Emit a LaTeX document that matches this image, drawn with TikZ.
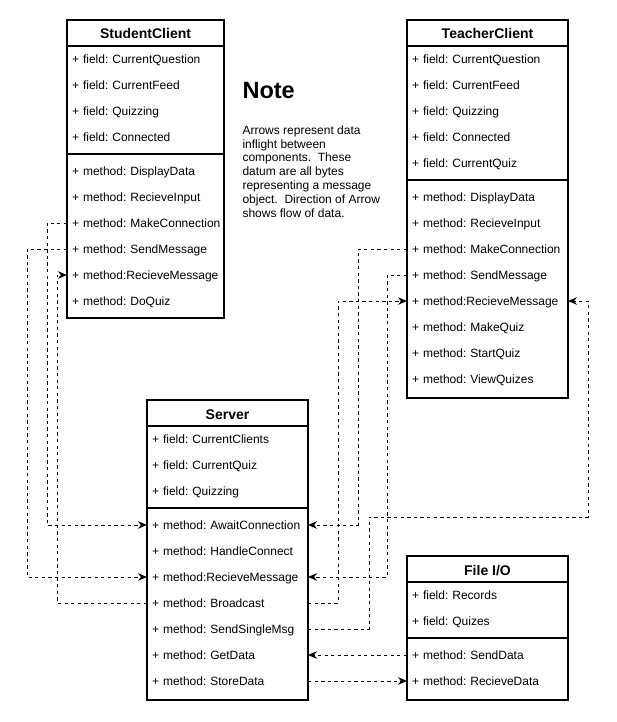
\documentclass[tikz,border=0pt]{standalone}
\usepackage{fontspec}
\setmainfont{Liberation Sans}
\usetikzlibrary{arrows.meta}

\begin{document}
\begin{tikzpicture}[x=1pt,y=-1pt,line width=1.1pt]
    \tikzstyle{member}=[inner xsep=5pt,inner ysep=0pt,outer sep=0pt,minimum height=26pt,text height=9.6pt,text depth=1pt,align=left,font=\fontsize{12}{14}\selectfont\frenchspacing]
    \tikzstyle{head}=[inner sep=0pt,outer sep=0pt,text height=10pt,text depth=0pt,font=\fontsize{14}{16}\selectfont\bfseries]
    \tikzstyle{flow}=[line width=0.9pt,dash pattern=on 3.3pt off 3.3pt,-{Stealth[length=9pt,width=7.5pt]}]
    \useasboundingbox (0,0) rectangle (616,722);

    % StudentClient
    \draw (67,20) rectangle (224,318);
    \draw (67,46) -- (224,46) (67,154) -- (224,154);
    \node[head] (SC) at (145.5,34) {StudentClient};
    \foreach \txt [count=\i] in {CurrentQuestion, CurrentFeed, Quizzing, Connected}
        \node[member,text width=147pt] (SC-f\i) at (145.5,33+26*\i) {\mbox{+ field: \txt}};
    \foreach \txt [count=\i] in {method: DisplayData, method: RecieveInput, method: MakeConnection,
            method: SendMessage, method:RecieveMessage, method: DoQuiz}
        \node[member,text width=147pt] (SC-m\i) at (145.5,145+26*\i) {\mbox{+ \txt}};

    % TeacherClient
    \draw (407,20) rectangle (568,398);
    \draw (407,46) -- (568,46) (407,180) -- (568,180);
    \node[head] (TC) at (487.5,34) {TeacherClient};
    \foreach \txt [count=\i] in {CurrentQuestion, CurrentFeed, Quizzing, Connected, CurrentQuiz}
        \node[member,text width=151pt] (TC-f\i) at (487.5,33+26*\i) {\mbox{+ field: \txt}};
    \foreach \txt [count=\i] in {method: DisplayData, method: RecieveInput, method: MakeConnection,
            method: SendMessage, method:RecieveMessage, method: MakeQuiz, method: StartQuiz, method: ViewQuizes}
        \node[member,text width=151pt] (TC-m\i) at (487.5,171+26*\i) {\mbox{+ \txt}};

    % Server
    \draw (147,400) rectangle (308,700);
    \draw (147,426) -- (308,426) (147,508) -- (308,508);
    \node[head] (S) at (227.5,414) {Server};
    \foreach \txt [count=\i] in {CurrentClients, CurrentQuiz, Quizzing}
        \node[member,text width=151pt] (S-f\i) at (227.5,413+26*\i) {\mbox{+ field: \txt}};
    \foreach \txt [count=\i] in {method: AwaitConnection, method: HandleConnect, method:RecieveMessage,
            method: Broadcast, method: SendSingleMsg, method: GetData, method: StoreData}
        \node[member,text width=151pt] (S-m\i) at (227.5,499+26*\i) {\mbox{+ \txt}};

    % File I/O
    \draw (407,556) rectangle (568,700);
    \draw (407,582) -- (568,582) (407,638) -- (568,638);
    \node[head] (FIO) at (487.5,570) {File I/O};
    \foreach \txt [count=\i] in {Records, Quizes}
        \node[member,text width=151pt] (FIO-f\i) at (487.5,569+26*\i) {\mbox{+ field: \txt}};
    \foreach \txt [count=\i] in {method: SendData, method: RecieveData}
        \node[member,text width=151pt] (FIO-m\i) at (487.5,629+26*\i) {\mbox{+ \txt}};

    % Note
    \node[anchor=west,inner sep=0pt,font=\fontsize{23.5}{28}\selectfont\bfseries] (note) at (242,91) {Note};
    \node[anchor=north west,inner sep=0pt,align=left,font=\fontsize{12}{13.8}\selectfont] (note-text) at (242,125)
        {Arrows represent data\\inflight between\\components.\ \ These\\datum are all bytes\\representing a message\\object.\ \ Direction of Arrow\\shows flow of data.};

    % data flow
    \coordinate (turn) at (588,517);
    \draw[flow] (SC-m3.west) -- ++(-20,0) |- (S-m1.west);
    \draw[flow] (SC-m4.west) -- ++(-40,0) |- (S-m3.west);
    \draw[flow] (S-m4.west) -- ++(-90,0) |- (SC-m5.west);
    \draw[flow] (TC-m3.west) -- ++(-49,0) |- (S-m1.east);
    \draw[flow] (TC-m4.west) -- ++(-20,0) |- (S-m3.east);
    \draw[flow] (S-m4.east) -- ++(30,0) |- (TC-m5.west);
    \draw[flow] (S-m5.east) -- ++(61,0) |- (turn) |- (TC-m5.east);
    \draw[flow] (FIO-m1.west) -- (S-m6.east);
    \draw[flow] (S-m7.east) -- (FIO-m2.west);
\end{tikzpicture}
\end{document}
